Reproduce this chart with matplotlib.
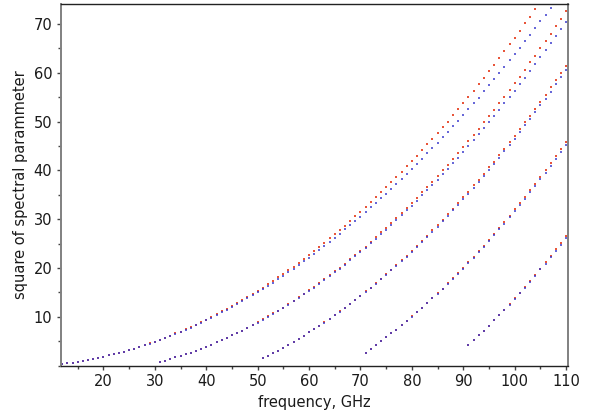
import matplotlib
matplotlib.use("Agg")
import matplotlib.pyplot as plt
from matplotlib.ticker import MultipleLocator
import numpy as np

# first frequency (GHz) of each mode, one point per GHz after that
mode_start = [11, 31, 51, 71, 91]

# blue series: square of spectral parameter
blue_1 = [0.2, 0.3, 0.5, 0.6, 0.8, 1.0, 1.2, 1.4, 1.6, 1.8,
          2.1, 2.3, 2.6, 2.9, 3.2, 3.5, 3.8, 4.2, 4.5, 4.9,
          5.3, 5.7, 6.1, 6.5, 6.9, 7.4, 7.8, 8.3, 8.8, 9.3,
          9.8, 10.4, 10.9, 11.4, 12.0, 12.6, 13.2, 13.8, 14.4, 15.1,
          15.7, 16.4, 17.0, 17.7, 18.4, 19.1, 19.9, 20.6, 21.4, 22.1,
          22.9, 23.7, 24.5, 25.3, 26.2, 27.0, 27.9, 28.8, 29.6, 30.5,
          31.5, 32.4, 33.3, 34.3, 35.2, 36.2, 37.2, 38.2, 39.3, 40.3,
          41.3, 42.4, 43.5, 44.6, 45.7, 46.8, 47.9, 49.0, 50.2, 51.4,
          52.5, 53.7, 54.9, 56.2, 57.4, 58.7, 59.9, 61.2, 62.5, 63.8,
          65.1, 66.4, 67.8, 69.1, 70.5, 71.9, 73.3, 74.7]
blue_2 = [0.8, 1.0, 1.3, 1.7, 2.0, 2.4, 2.7, 3.1, 3.5, 3.9,
          4.3, 4.8, 5.2, 5.7, 6.2, 6.7, 7.2, 7.7, 8.3, 8.8,
          9.4, 10.0, 10.6, 11.2, 11.9, 12.5, 13.2, 13.9, 14.6, 15.3,
          16.0, 16.8, 17.5, 18.3, 19.1, 19.9, 20.7, 21.6, 22.4, 23.3,
          24.2, 25.1, 26.0, 26.9, 27.8, 28.8, 29.8, 30.8, 31.8, 32.8,
          33.8, 34.9, 35.9, 37.0, 38.1, 39.2, 40.3, 41.5, 42.6, 43.8,
          45.0, 46.2, 47.4, 48.6, 49.9, 51.1, 52.4, 53.7, 55.0, 56.3,
          57.7, 59.0, 60.4, 61.8, 63.2, 64.6, 66.0, 67.5, 68.9, 70.4]
blue_3 = [1.5, 2.0, 2.6, 3.1, 3.7, 4.3, 4.9, 5.5, 6.1, 6.8,
          7.5, 8.1, 8.8, 9.6, 10.3, 11.0, 11.8, 12.6, 13.4, 14.2,
          15.1, 15.9, 16.8, 17.7, 18.6, 19.5, 20.4, 21.4, 22.3, 23.3,
          24.3, 25.3, 26.4, 27.4, 28.5, 29.6, 30.7, 31.8, 32.9, 34.1,
          35.2, 36.4, 37.6, 38.8, 40.1, 41.3, 42.6, 43.9, 45.2, 46.5,
          47.8, 49.2, 50.5, 51.9, 53.3, 54.7, 56.1, 57.6, 59.1, 60.5]
blue_4 = [2.7, 3.4, 4.2, 5.0, 5.8, 6.6, 7.4, 8.3, 9.1, 10.0,
          10.9, 11.8, 12.8, 13.8, 14.7, 15.7, 16.7, 17.8, 18.8, 19.9,
          21.0, 22.1, 23.2, 24.4, 25.5, 26.7, 27.9, 29.1, 30.4, 31.6,
          32.9, 34.2, 35.5, 36.8, 38.2, 39.5, 40.9, 42.3, 43.8, 45.2]
blue_5 = [4.2, 5.2, 6.2, 7.2, 8.2, 9.3, 10.3, 11.4, 12.5, 13.7,
          14.8, 16.0, 17.2, 18.4, 19.7, 20.9, 22.2, 23.5, 24.8, 26.2]

# red series
red_1 = [0.2, 0.3, 0.5, 0.6, 0.8, 1.0, 1.2, 1.4, 1.6, 1.8,
         2.1, 2.3, 2.6, 2.9, 3.2, 3.5, 3.9, 4.2, 4.6, 4.9,
         5.3, 5.7, 6.1, 6.6, 7.0, 7.5, 7.9, 8.4, 8.9, 9.4,
         10.0, 10.5, 11.1, 11.6, 12.2, 12.8, 13.4, 14.0, 14.7, 15.3,
         16.0, 16.7, 17.4, 18.1, 18.8, 19.6, 20.3, 21.1, 21.9, 22.7,
         23.5, 24.4, 25.2, 26.1, 26.9, 27.8, 28.7, 29.6, 30.6, 31.5,
         32.5, 33.5, 34.5, 35.5, 36.5, 37.6, 38.6, 39.7, 40.8, 41.9,
         43.0, 44.1, 45.3, 46.4, 47.6, 48.8, 50.0, 51.3, 52.5, 53.8,
         55.0, 56.3, 57.6, 58.9, 60.3, 61.6, 63.0, 64.4, 65.8, 67.2,
         68.6, 70.1, 71.5, 73.0, 74.5]
red_2 = [0.8, 1.0, 1.3, 1.7, 2.0, 2.4, 2.7, 3.1, 3.5, 3.9,
         4.3, 4.8, 5.2, 5.7, 6.2, 6.7, 7.2, 7.8, 8.3, 8.9,
         9.5, 10.1, 10.7, 11.3, 11.9, 12.6, 13.3, 14.0, 14.7, 15.4,
         16.2, 16.9, 17.7, 18.5, 19.3, 20.1, 20.9, 21.8, 22.7, 23.5,
         24.4, 25.4, 26.3, 27.3, 28.2, 29.2, 30.2, 31.2, 32.3, 33.3,
         34.4, 35.5, 36.6, 37.7, 38.8, 40.0, 41.1, 42.3, 43.5, 44.7,
         46.0, 47.2, 48.5, 49.8, 51.1, 52.4, 53.7, 55.1, 56.4, 57.8,
         59.2, 60.6, 62.1, 63.5, 65.0, 66.5, 68.0, 69.5, 71.0, 72.6]
red_3 = [1.5, 2.0, 2.6, 3.1, 3.7, 4.3, 4.9, 5.5, 6.1, 6.8,
         7.5, 8.2, 8.9, 9.6, 10.3, 11.1, 11.9, 12.7, 13.5, 14.3,
         15.2, 16.0, 16.9, 17.8, 18.7, 19.6, 20.6, 21.6, 22.5, 23.5,
         24.6, 25.6, 26.6, 27.7, 28.8, 29.9, 31.0, 32.1, 33.3, 34.5,
         35.6, 36.9, 38.1, 39.3, 40.6, 41.8, 43.1, 44.4, 45.8, 47.1,
         48.5, 49.8, 51.2, 52.6, 54.0, 55.5, 57.0, 58.4, 59.9, 61.4]
red_4 = [2.7, 3.4, 4.2, 5.0, 5.8, 6.6, 7.4, 8.3, 9.2, 10.1,
         11.0, 11.9, 12.9, 13.8, 14.8, 15.8, 16.9, 17.9, 19.0, 20.1,
         21.2, 22.3, 23.5, 24.6, 25.8, 27.0, 28.2, 29.5, 30.7, 32.0,
         33.3, 34.6, 36.0, 37.3, 38.7, 40.1, 41.5, 43.0, 44.4, 45.9]
red_5 = [4.2, 5.2, 6.2, 7.2, 8.2, 9.3, 10.4, 11.5, 12.6, 13.8,
         14.9, 16.1, 17.4, 18.6, 19.9, 21.2, 22.5, 23.8, 25.2, 26.6]

red_modes = [red_1, red_2, red_3, red_4, red_5]
blue_modes = [blue_1, blue_2, blue_3, blue_4, blue_5]

fig = plt.figure(figsize=(5.9, 4.15), dpi=100)
ax = fig.add_axes([0.1029, 0.1188, 0.8593, 0.8708])

for start, vals in zip(mode_start, red_modes):
    f = np.arange(start, start + len(vals))
    ax.plot(f, vals, linestyle='none', marker='s', markersize=1.7,
            markeredgewidth=0, color='#e8553a')
for start, vals in zip(mode_start, blue_modes):
    f = np.arange(start, start + len(vals))
    ax.plot(f, vals, linestyle='none', marker='s', markersize=1.7,
            markeredgewidth=0, color='#3535cc', alpha=0.75)

ax.set_xlim(11.7, 110.3)
ax.set_ylim(0, 74)
ax.set_xticks(np.arange(20, 111, 10))
ax.set_yticks(np.arange(10, 71, 10))
ax.xaxis.set_minor_locator(MultipleLocator(5))
ax.yaxis.set_minor_locator(MultipleLocator(5))
ax.tick_params(which='major', direction='out', length=3, width=1,
               color='#444444', labelsize=10.5, labelcolor='#1a1a1a', pad=3)
ax.tick_params(which='minor', direction='out', length=2, width=1,
               color='#444444')

for side in ['left', 'right']:
    ax.spines[side].set_color('#808080')
    ax.spines[side].set_linewidth(1.4)
for side in ['top', 'bottom']:
    ax.spines[side].set_color('#222222')
    ax.spines[side].set_linewidth(1.0)

ax.set_xlabel('frequency, GHz', fontsize=10.5, color='#1a1a1a', labelpad=4)
ax.set_ylabel('square of spectral parammeter', fontsize=10.5, color='#1a1a1a',
              labelpad=4)

fig.savefig('out.png', dpi=100)
